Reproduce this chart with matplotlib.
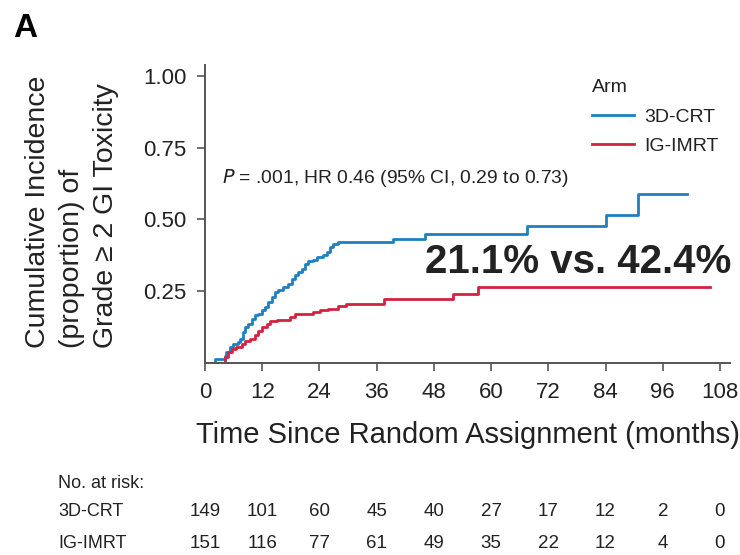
import matplotlib
matplotlib.use("Agg")
import matplotlib.pyplot as plt
import matplotlib.transforms as mtransforms

# ---------------------------------------------------------------------------
# data
# ---------------------------------------------------------------------------
crt_time = [0, 2.1, 4.2, 4.5, 5.2, 5.9, 7.0, 7.3, 8.0, 8.4, 9.1, 9.8, 10.5,
            11.2, 11.9, 12.6, 13.3, 14.0, 14.7, 15.4, 16.4, 17.5, 18.2, 18.9,
            19.6, 20.3, 21.0, 21.7, 22.7, 23.4, 24.8, 25.5, 26.2, 26.9, 27.9,
            39.5, 46.1, 67.5, 84.0, 90.8, 101.0]
crt_cum = [0, 0.015, 0.025, 0.038, 0.055, 0.067, 0.073, 0.084, 0.107, 0.125,
           0.136, 0.154, 0.166, 0.171, 0.183, 0.195, 0.212, 0.229, 0.247,
           0.255, 0.264, 0.276, 0.293, 0.305, 0.316, 0.328, 0.346, 0.357,
           0.360, 0.369, 0.375, 0.386, 0.404, 0.415, 0.423, 0.433, 0.450,
           0.476, 0.516, 0.588, 0.588]

imrt_time = [0, 4.2, 4.9, 5.6, 6.6, 7.7, 8.4, 9.4, 10.5, 11.2, 11.9, 12.9,
             13.6, 15.0, 17.8, 18.9, 22.7, 24.1, 25.8, 27.9, 29.5, 37.5, 52.0,
             57.3, 106.0]
imrt_cum = [0, 0.020, 0.038, 0.049, 0.055, 0.067, 0.078, 0.084, 0.096, 0.113,
            0.125, 0.136, 0.146, 0.150, 0.160, 0.169, 0.177, 0.183, 0.189,
            0.197, 0.207, 0.223, 0.240, 0.263, 0.263]

risk_times = [0, 12, 24, 36, 48, 60, 72, 84, 96, 108]
risk_crt = [149, 101, 60, 45, 40, 27, 17, 12, 2, 0]
risk_imrt = [151, 116, 77, 61, 49, 35, 22, 12, 4, 0]

y_ticks = [0.25, 0.50, 0.75, 1.00]

C_BLUE = "#1f80c1"
C_RED = "#d3223f"
C_TEXT = "#222222"
C_AXIS = "#555555"

plt.rcParams["font.family"] = ["Liberation Sans", "DejaVu Sans"]

fig = plt.figure(figsize=(7.4, 5.55), dpi=100)
ax = fig.add_axes([205 / 740, 1 - 363 / 555, 525 / 740, 298 / 555])

ax.step(crt_time, crt_cum, where="post", color=C_BLUE, lw=2.0, label="3D-CRT")
ax.step(imrt_time, imrt_cum, where="post", color=C_RED, lw=2.0, label="IG-IMRT")

ax.set_xlim(0, 110.1)
ax.set_ylim(0, 1.038)
ax.set_xticks(risk_times)
ax.set_yticks(y_ticks)
ax.set_yticklabels([f"{v:.2f}" for v in y_ticks])
for lab in ax.get_xticklabels() + ax.get_yticklabels():
    lab.set_fontsize(16)
    lab.set_color(C_TEXT)

for s in ["top", "right"]:
    ax.spines[s].set_visible(False)
for s in ["left", "bottom"]:
    ax.spines[s].set_color(C_AXIS)
    ax.spines[s].set_linewidth(1.4)
ax.tick_params(axis="both", direction="out", length=5.5, width=1.2,
               color=C_AXIS, pad=8)

ax.set_xlabel("Time Since Random Assignment (months)", fontsize=21,
              color=C_TEXT, labelpad=13)

fig.text(72 / 740, 1 - 348 / 555,
         "Cumulative Incidence\n(proportion) of\nGrade \u2265 2 GI Toxicity",
         rotation=90, ha="center", va="bottom", multialignment="left",
         fontsize=20.5, color=C_TEXT, linespacing=1.42)

fig.text(13 / 740, 1 - 37 / 555, "A", fontsize=24, fontweight="bold",
         color="black", ha="left", va="baseline")

fig.text(222 / 740, 1 - 178 / 555,
         "$\\it{P}$ = .001, HR 0.46 (95% CI, 0.29 to 0.73)",
         fontsize=13.9, color=C_TEXT, ha="left", va="center")

fig.text(425 / 740, 1 - 262 / 555, "21.1% vs. 42.4%", fontsize=29,
         fontweight="bold", color=C_TEXT, ha="left", va="center")

leg = ax.legend(title="Arm", loc="upper left",
                bbox_to_anchor=(586 / 740, 1 - 73 / 555),
                bbox_transform=fig.transFigure, frameon=False,
                fontsize=14, title_fontsize=14, handlelength=2.15,
                handletextpad=0.55, labelspacing=0.62, alignment="left",
                borderaxespad=0, borderpad=0.3)
for t in leg.get_texts():
    t.set_color(C_TEXT)
leg.get_title().set_color(C_TEXT)

# number at risk table
trans = mtransforms.blended_transform_factory(ax.transData, fig.transFigure)
fig.text(58 / 740, 1 - 483 / 555, "No. at risk:", fontsize=13,
         color=C_TEXT, ha="left", va="center")
for row_y, name, counts in [(512, "3D-CRT", risk_crt), (543, "IG-IMRT", risk_imrt)]:
    fig.text(58 / 740, 1 - row_y / 555, name, fontsize=13,
             color=C_TEXT, ha="left", va="center")
    for t, n in zip(risk_times, counts):
        ax.text(t, 1 - row_y / 555, str(n), transform=trans, fontsize=13.5,
                color=C_TEXT, ha="center", va="center", clip_on=False)

fig.savefig("out.png", dpi=100)
